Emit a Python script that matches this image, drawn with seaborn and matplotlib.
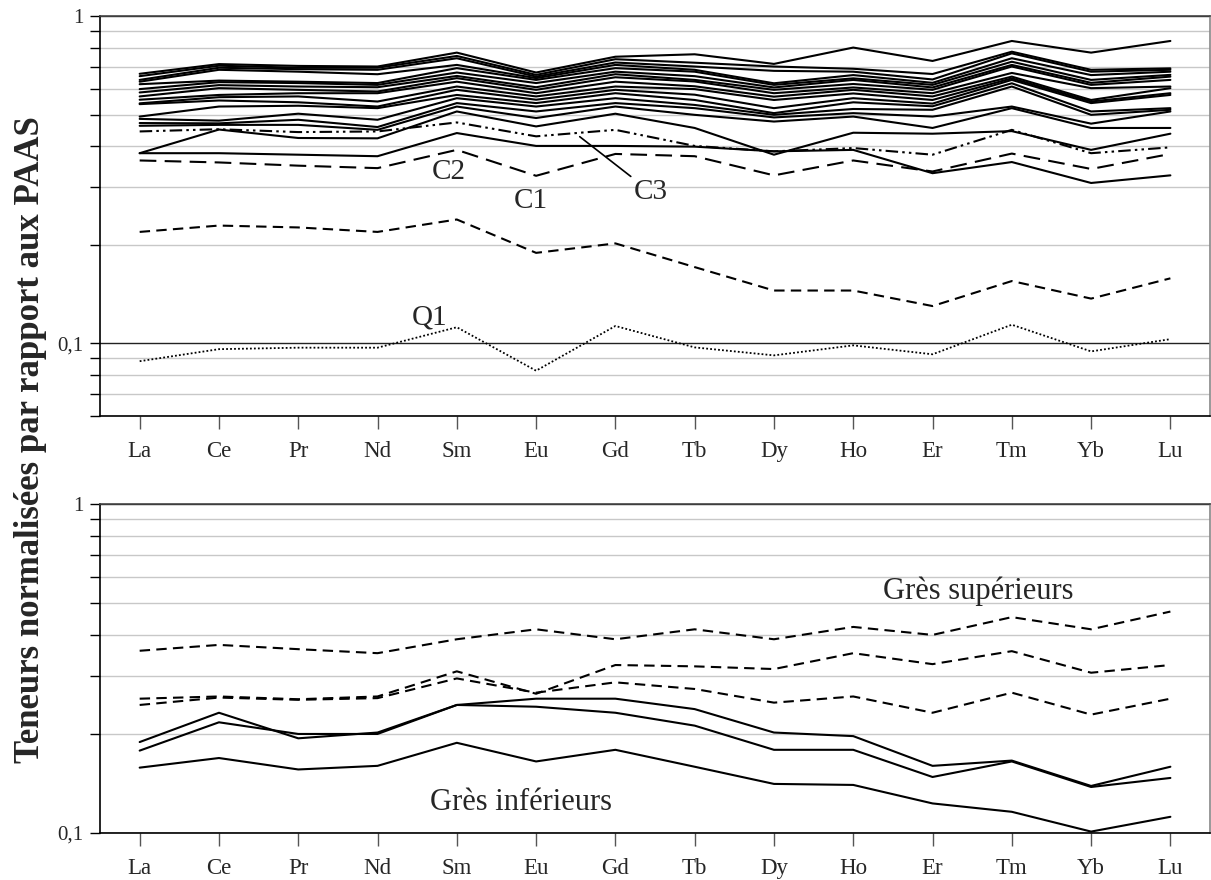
import numpy as np
import pandas as pd
import matplotlib
matplotlib.use("Agg")
import matplotlib.pyplot as plt
import seaborn as sns
from matplotlib.ticker import NullFormatter

# ---------------- data ----------------
elements = ["La", "Ce", "Pr", "Nd", "Sm", "Eu", "Gd", "Tb", "Dy", "Ho", "Er", "Tm", "Yb", "Lu"]

# upper panel : solid samples
s01 = [0.666, 0.713, 0.704, 0.701, 0.773, 0.672, 0.751, 0.764, 0.714, 0.801, 0.729, 0.839, 0.773, 0.839]
s02 = [0.655, 0.705, 0.695, 0.695, 0.755, 0.661, 0.738, 0.720, 0.701, 0.690, 0.665, 0.778, 0.685, 0.692]
s03 = [0.638, 0.695, 0.688, 0.685, 0.743, 0.653, 0.721, 0.701, 0.680, 0.676, 0.640, 0.769, 0.676, 0.685]
s04 = [0.630, 0.685, 0.676, 0.664, 0.709, 0.646, 0.709, 0.685, 0.623, 0.660, 0.625, 0.743, 0.660, 0.676]
s05 = [0.619, 0.635, 0.630, 0.624, 0.693, 0.638, 0.693, 0.676, 0.616, 0.645, 0.616, 0.725, 0.638, 0.661]
s06 = [0.598, 0.628, 0.624, 0.616, 0.672, 0.624, 0.676, 0.655, 0.605, 0.638, 0.605, 0.709, 0.625, 0.653]
s07 = [0.584, 0.615, 0.609, 0.606, 0.656, 0.606, 0.664, 0.638, 0.595, 0.620, 0.595, 0.701, 0.616, 0.638]
s08 = [0.568, 0.602, 0.595, 0.588, 0.646, 0.595, 0.650, 0.631, 0.581, 0.605, 0.581, 0.670, 0.602, 0.609]
s09 = [0.555, 0.574, 0.581, 0.581, 0.630, 0.581, 0.630, 0.610, 0.567, 0.595, 0.568, 0.653, 0.554, 0.602]
s10 = [0.541, 0.565, 0.568, 0.548, 0.609, 0.568, 0.609, 0.598, 0.554, 0.580, 0.554, 0.645, 0.548, 0.581]
s11 = [0.538, 0.552, 0.545, 0.529, 0.595, 0.555, 0.595, 0.575, 0.523, 0.561, 0.540, 0.638, 0.542, 0.574]
s12 = [0.493, 0.529, 0.532, 0.523, 0.574, 0.542, 0.581, 0.554, 0.505, 0.545, 0.530, 0.623, 0.511, 0.523]
s13 = [0.485, 0.479, 0.503, 0.482, 0.561, 0.529, 0.561, 0.535, 0.499, 0.520, 0.517, 0.609, 0.499, 0.517]
s14 = [0.471, 0.470, 0.482, 0.458, 0.542, 0.511, 0.542, 0.523, 0.490, 0.505, 0.493, 0.529, 0.469, 0.511]
s15 = [0.462, 0.465, 0.465, 0.449, 0.529, 0.488, 0.529, 0.499, 0.476, 0.493, 0.455, 0.523, 0.455, 0.455]
s16 = [0.381, 0.450, 0.424, 0.423, 0.511, 0.460, 0.503, 0.455, 0.377, 0.440, 0.437, 0.445, 0.390, 0.437]
s17 = [0.381, 0.381, 0.377, 0.373, 0.439, 0.401, 0.401, 0.399, 0.386, 0.390, 0.331, 0.358, 0.309, 0.326]

# upper panel : labelled samples
c1 = [0.219, 0.229, 0.226, 0.219, 0.239, 0.189, 0.202, 0.171, 0.145, 0.145, 0.130, 0.155, 0.137, 0.158]
c2 = [0.362, 0.357, 0.349, 0.343, 0.390, 0.325, 0.379, 0.373, 0.326, 0.362, 0.335, 0.380, 0.341, 0.379]
c3 = [0.444, 0.451, 0.442, 0.444, 0.473, 0.429, 0.449, 0.401, 0.386, 0.395, 0.377, 0.449, 0.381, 0.397]
q1 = [0.0882, 0.096, 0.097, 0.097, 0.112, 0.0825, 0.113, 0.0972, 0.0919, 0.0986, 0.0926, 0.114, 0.0945, 0.103]

# lower panel
gs1 = [0.358, 0.373, 0.362, 0.352, 0.388, 0.416, 0.388, 0.416, 0.388, 0.423, 0.400, 0.453, 0.416, 0.471]
gs2 = [0.256, 0.260, 0.255, 0.260, 0.310, 0.265, 0.324, 0.321, 0.315, 0.352, 0.326, 0.357, 0.307, 0.324]
gs3 = [0.245, 0.258, 0.254, 0.257, 0.295, 0.267, 0.287, 0.274, 0.249, 0.260, 0.232, 0.267, 0.229, 0.256]
gi1 = [0.189, 0.232, 0.194, 0.202, 0.245, 0.256, 0.256, 0.238, 0.202, 0.197, 0.160, 0.166, 0.139, 0.159]
gi2 = [0.178, 0.217, 0.200, 0.200, 0.245, 0.242, 0.232, 0.212, 0.179, 0.179, 0.148, 0.165, 0.138, 0.147]
gi3 = [0.158, 0.169, 0.156, 0.160, 0.188, 0.165, 0.179, 0.159, 0.141, 0.140, 0.123, 0.116, 0.101, 0.112]

solid_top = [s01, s02, s03, s04, s05, s06, s07, s08, s09, s10, s11, s12, s13, s14, s15, s16, s17]

ylabel = "Teneurs normalisées par rapport aux PAAS"

# ---------------- style ----------------
sns.set_theme(style="white")
plt.rcParams["font.family"] = ["Liberation Serif", "DejaVu Serif"]

fig = plt.figure(figsize=(12.11, 8.8), dpi=100)
ax1 = fig.add_axes([0.0826, 0.5273, 0.9166, 0.4545])
ax2 = fig.add_axes([0.0826, 0.0534, 0.9166, 0.3739])

LW = 1.5


def draw(ax, vals, ls="-", lw=LW):
    df = pd.DataFrame({"element": elements, "value": vals})
    sns.lineplot(data=df, x="element", y="value", ax=ax, color="black",
                 linestyle=ls, lw=lw, sort=False, estimator=None, zorder=3)


for s in solid_top:
    draw(ax1, s)
draw(ax1, c1, (0, (5, 3)))
draw(ax1, c2, (0, (8, 4)))
draw(ax1, c3, (0, (6, 2, 1.2, 2, 1.2, 2)))
draw(ax1, q1, (0, (1, 1.2)), lw=1.3)

for s in (gs1, gs2, gs3):
    draw(ax2, s, (0, (5, 3)))
for s in (gi1, gi2, gi3):
    draw(ax2, s)

# ---------------- axes ----------------
for ax, ymin, minors in ((ax1, 0.06, [0.06, 0.07, 0.08, 0.09, 0.2, 0.3, 0.4, 0.5, 0.6, 0.7, 0.8, 0.9]),
                         (ax2, 0.1, [0.2, 0.3, 0.4, 0.5, 0.6, 0.7, 0.8, 0.9])):
    ax.set_yscale("log")
    ax.set_ylim(ymin, 1)
    ax.set_xlim(-0.5, 13.5)
    ax.set_yticks([0.1, 1], labels=["0,1", "1"])
    ax.set_yticks(minors, minor=True)
    ax.yaxis.set_minor_formatter(NullFormatter())
    ax.set_xticks(range(len(elements)), labels=elements)
    ax.grid(False)
    ax.grid(which="minor", axis="y", color="#c8c8c8", lw=1.0, zorder=0)
    ax.grid(which="major", axis="y", color="#222222", lw=1.0, zorder=0)
    ax.tick_params(axis="y", which="both", direction="out", length=7, width=1,
                   color="black", left=True, labelsize=15, pad=5)
    ax.tick_params(axis="x", direction="out", length=9, width=1, color="#555555",
                   bottom=True, labelsize=16.5, pad=9)
    ax.set_xlabel("")
    ax.set_ylabel("")
    ax.spines["left"].set_color("black")
    ax.spines["bottom"].set_color("black")
    ax.spines["top"].set_color("#444444")
    ax.spines["right"].set_color("#888888")
    for sp in ax.spines.values():
        sp.set_linewidth(1.2)
        sp.set_visible(True)

# ---------------- annotations ----------------
ax1.text(3.90, 0.334, "C2", fontsize=21, ha="center", va="center")
ax1.text(4.93, 0.272, "C1", fontsize=21, ha="center", va="center")
ax1.text(3.65, 0.120, "Q1", fontsize=21, ha="center", va="center")
ax1.annotate("C3", xy=(5.55, 0.428), xytext=(6.45, 0.29), fontsize=21,
             ha="center", va="center",
             arrowprops=dict(arrowstyle="-", color="black", lw=1.2,
                             relpos=(0.0, 1.0), shrinkA=0, shrinkB=0))

ax2.text(10.58, 0.544, "Grès supérieurs", fontsize=22, ha="center", va="center")
ax2.text(4.81, 0.124, "Grès inférieurs", fontsize=22, ha="center", va="center")

fig.text(0.025, 0.5, ylabel, rotation=90, ha="center", va="center",
         fontsize=25, fontweight="bold")

fig.savefig("out.png", dpi=100)
